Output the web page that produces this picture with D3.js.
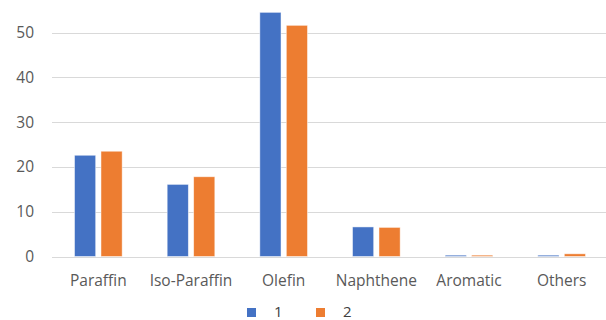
<!DOCTYPE html>
<html>
<head>
<meta charset="utf-8">
<script src="https://cdn.jsdelivr.net/npm/d3@7"></script>
<style>
  html, body { margin: 0; padding: 0; background: #fff; }
  svg { display: block; font-family: "Open Sans", "Liberation Sans", sans-serif; }
</style>
</head>
<body>
<svg id="chart" width="606" height="320"></svg>
<script>
// Composition groups and the two measured samples
const categories = ["Paraffin", "Iso-Paraffin", "Olefin", "Naphthene", "Aromatic", "Others"];
const seriesNames = ["1", "2"];
const series1 = [22.6, 16.1, 54.5, 6.6, 0.3, 0.3];
const series2 = [23.5, 17.8, 51.6, 6.5, 0.3, 0.6];
const yTicks = [0, 10, 20, 30, 40, 50];
const colors = ["#4472C4", "#ED7D31"];

const svg = d3.select("#chart");
const margin = { left: 52, right: -2, top: 10, bottom: 63 };
const width = 606, height = 320;
const labelFont = "\"Open Sans\", \"Liberation Sans\", sans-serif";

const x = d3.scaleBand()
  .domain(categories)
  .range([margin.left, width - margin.right])
  .paddingInner(0)
  .paddingOuter(0);

const xInner = d3.scaleBand()
  .domain(seriesNames)
  .range([0, x.bandwidth()])
  .paddingInner(0.2)
  .paddingOuter(0.85);

const y = d3.scaleLinear()
  .domain([0, 50])
  .range([256.5, 32.5]);

// Horizontal gridlines
svg.append("g")
  .selectAll("line")
  .data(yTicks)
  .join("line")
  .attr("x1", margin.left)
  .attr("x2", width)
  .attr("y1", d => Math.round(y(d)) + 0.5)
  .attr("y2", d => Math.round(y(d)) + 0.5)
  .attr("stroke", "#D9D9D9")
  .attr("stroke-width", 1);

// Y axis labels
const yAxis = d3.axisLeft(y).tickValues(yTicks).tickSize(0).tickPadding(0);
const yg = svg.append("g").attr("transform", `translate(${margin.left - 18},0)`).call(yAxis);
yg.select(".domain").remove();
yg.selectAll("text")
  .attr("fill", "#595959")
  .attr("font-size", 15.5)
  .attr("font-family", labelFont);

// Bars
const data = categories.map((c, i) => ({ cat: c, values: [series1[i], series2[i]] }));
const groups = svg.append("g")
  .selectAll("g")
  .data(data)
  .join("g")
  .attr("transform", d => `translate(${x(d.cat)},0)`);

groups.selectAll("rect")
  .data(d => d.values.map((v, j) => ({ key: seriesNames[j], v, j })))
  .join("rect")
  .attr("x", d => xInner(d.key))
  .attr("width", xInner.bandwidth())
  .attr("y", d => y(d.v))
  .attr("height", d => y(0) - y(d.v))
  .attr("fill", d => colors[d.j])
  .attr("stroke", "#ffffff")
  .attr("stroke-opacity", 0.6)
  .attr("stroke-width", 0.8);

// X axis labels
const xAxis = d3.axisBottom(x).tickSize(0).tickPadding(0);
const xg = svg.append("g").attr("transform", `translate(0,${y(0) + 18})`).call(xAxis);
xg.select(".domain").remove();
xg.selectAll("text")
  .attr("fill", "#595959")
  .attr("font-size", 15.5)
  .attr("font-family", labelFont);

// Legend
const legendX = [247, 316];
const legend = svg.append("g")
  .selectAll("g")
  .data(seriesNames)
  .join("g")
  .attr("transform", (d, i) => `translate(${legendX[i]},308)`);
legend.append("rect")
  .attr("width", 9).attr("height", 9)
  .attr("fill", (d, i) => colors[i]);
legend.append("text")
  .attr("x", 27).attr("y", 9)
  .attr("font-size", 15)
  .attr("fill", "#404040")
  .text(d => d);
</script>
</body>
</html>
